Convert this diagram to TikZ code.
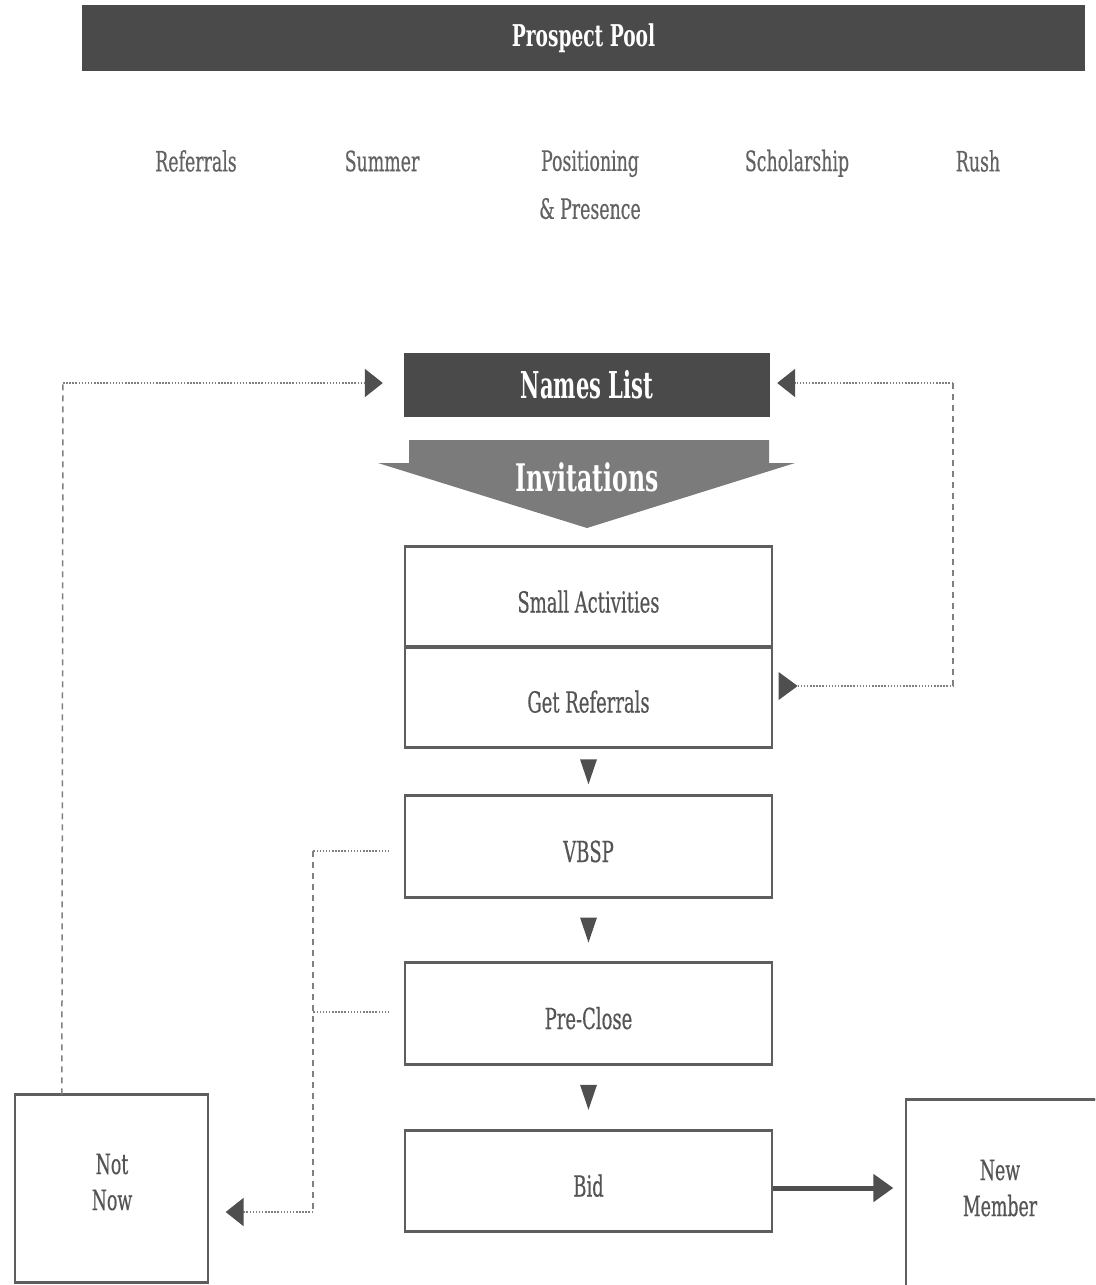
\documentclass[tikz,border=0pt]{standalone}
\usepackage{fontspec}
\setmainfont{DejaVu Serif}[FakeStretch=0.62, UprightFeatures={FakeBold=0.4}]
\newfontfamily\namesfont{DejaVu Serif Bold}[FakeStretch=0.57]
\usetikzlibrary{arrows.meta,calc}
\definecolor{darkbar}{HTML}{4A4A4A}
\definecolor{invcol}{HTML}{7B7B7B}
\definecolor{tipc}{HTML}{4F4F4F}
\definecolor{dotc}{HTML}{808080}
\definecolor{boxline}{HTML}{5E5E5E}
\definecolor{srctext}{HTML}{626262}
\definecolor{boxtext}{HTML}{545454}
\begin{document}
\begin{tikzpicture}[x=1pt,y=-1pt,
  bar/.style={fill=darkbar, draw=none, text=white, inner sep=0pt},
  srclabel/.style={text=srctext, align=center, font=\fontsize{28}{48}\selectfont, inner sep=0pt},
  stepbox/.style={draw=boxline, line width=1.3pt, fill=white, minimum width=367pt, minimum height=100pt,
    inner sep=0pt, text height=31pt, text depth=0pt, text=boxtext, font=\fontsize{29}{32}\selectfont},
  sidebox/.style={draw=boxline, line width=1.3pt, fill=white, inner sep=0pt, text=boxtext},
  sidetext/.style={text=boxtext, align=center, inner sep=0pt, font=\fontsize{28}{36}\selectfont},
  edge/.style={draw=boxline, line width=3pt},
  hdot/.style={draw=dotc, line width=2.2pt, dash pattern=on 1.5pt off 1.6pt},
  vdash/.style={draw=dotc, line width=1.5pt, dash pattern=on 6pt off 5pt},
  sidetip/.style={-{Triangle[length=18pt,width=28pt,color=tipc]}}
]
\useasboundingbox (0,0) rectangle (1095,1285);
\clip (0,0) rectangle (1095,1285);

% Prospect pool bar
\node[bar, minimum width=1003pt, minimum height=66pt, font=\fontsize{30}{32}\selectfont\bfseries] (pool) at (583.5,38) {Prospect Pool};

% sources
\node[srclabel] (ref) at (196,161) {Referrals};
\node[srclabel] (sum) at (382,161) {Summer};
\node[srclabel, anchor=north] (pos) at (590,150) {Positioning\\\& Presence};
\node[srclabel, anchor=base] (sch) at (797,171) {Scholarship};
\node[srclabel] (rush) at (978,161) {Rush};

% Names list
\node[bar, minimum width=366pt, minimum height=64pt, font=\fontsize{37}{40}\namesfont] (names) at (587,385) {Names List};

% Invitations arrow
\fill[invcol] (409,440) -- (769,440) -- (769,463) -- (795,463) -- (587,528) -- (378,463) -- (409,463) -- cycle;
\node[text=white, inner sep=0pt, font=\fontsize{38}{40}\selectfont\bfseries] (inv) at (587,477) {Invitations};

% step boxes
\node[stepbox] (sa) at (588.5,597) {Small Activities};
\node[stepbox] (gr) at (588.5,697) {Get Referrals};
\node[stepbox] (vbsp) at (588.5,846.5) {VBSP};
\node[stepbox] (pc) at (588.5,1013.5) {Pre-Close};
\node[stepbox] (bid) at (588.5,1181) {Bid};
\foreach \b in {sa,gr,vbsp,pc,bid}{
  \draw[edge] (\b.north west) -- (\b.north east);
  \draw[edge] (\b.south west) -- (\b.south east);
}

% side boxes
\node[sidebox, minimum width=193pt, minimum height=187pt] (nn) at (111.5,1188.5) {};
\draw[edge] (nn.north west) -- (nn.north east);
\draw[edge] (nn.south west) -- (nn.south east);
\node[sidetext] (nntext) at (112,1182) {Not\\Now};
\node[sidebox, minimum width=194pt, minimum height=200pt] (nm) at (1003,1200) {};
\draw[edge] (nm.north west) -- (nm.north east);
\node[sidetext] (nmtext) at (1000,1188) {New\\Member};

% down triangles
\foreach \a/\b in {gr/vbsp, vbsp/pc, pc/bid}{
  \coordinate (m) at ($(\a.south)!0.5!(\b.north)$);
  \fill[tipc] ($(m)+(-8.5,-12.5)$) -- ($(m)+(8.5,-12.5)$) -- ($(m)+(0,12.5)$) -- cycle;
}

% Bid -> New Member
\draw[draw=tipc, line width=5pt, -{Triangle[length=20pt,width=27pt]}] ($(bid.east)+(0,7)$) -- ($(bid.east -| nm.west)+(-12,7)$);

% left loop: Not Now -> Names List
\coordinate (Lc) at (63,383);
\draw[vdash] ($(nn.north west)+(47.5,0)$) -- (Lc);
\draw[hdot, sidetip] (Lc) -- ($(Lc -| names.west)+(-21,0)$);

% right loop: Get Referrals -> Names List
\coordinate (Rlow) at (953,686);
\coordinate (Rhigh) at (953,383);
\fill[tipc] ($(Rlow -| gr.east)+(6,-14)$) -- ++(19,14) -- ++(-19,14) -- cycle;
\draw[hdot] ($(Rlow -| gr.east)+(25,0)$) -- (Rlow);
\draw[vdash] (Rlow) -- (Rhigh);
\draw[hdot, sidetip] (Rhigh) -- ($(Rhigh -| names.east)+(7,0)$);

% VBSP / Pre-Close -> Not Now
\coordinate (Vc) at (313,851);
\coordinate (Pc) at (313,1012);
\coordinate (Bc) at (313,1212);
\draw[hdot] ($(Vc -| vbsp.west)+(-15,0)$) -- (Vc);
\draw[hdot] ($(Pc -| pc.west)+(-15,0)$) -- (Pc);
\draw[vdash] (Vc) -- (Bc);
\draw[hdot, sidetip] (Bc) -- ($(Bc -| nn.east)+(17,0)$);
\end{tikzpicture}
\end{document}
